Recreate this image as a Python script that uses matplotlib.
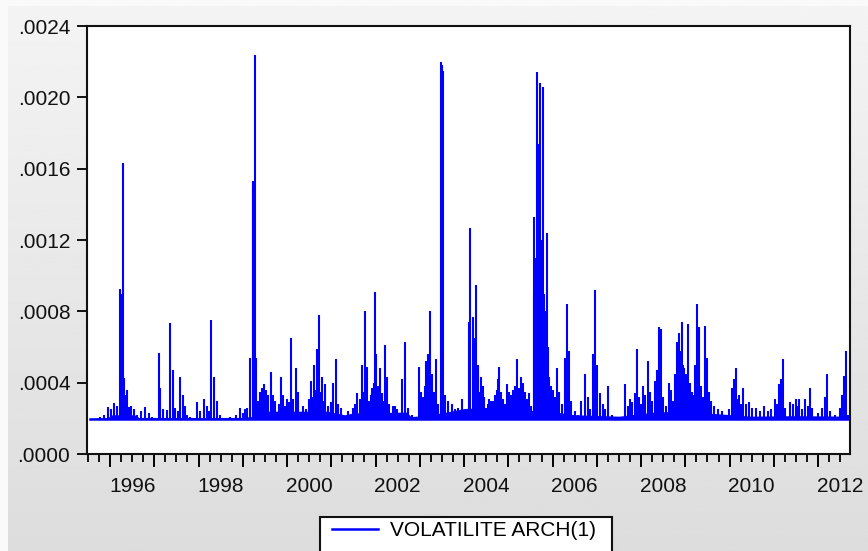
import matplotlib
matplotlib.use("Agg")
import matplotlib.pyplot as plt
import numpy as np
from matplotlib.patches import Rectangle
from matplotlib.ticker import FixedLocator, FuncFormatter, NullFormatter

plt.rcParams['font.family'] = ['Liberation Sans', 'DejaVu Sans']

# series range (decimal years) and the floor of the ARCH(1) variance
start, end = 1995.55, 2012.70
floor_level = 0.000195

# main peaks
spike_dates = [1995.955, 1996.090, 1996.226, 1996.24, 1996.27, 1996.294, 1996.316, 1996.384,
               1996.429, 1996.542, 1996.791, 1996.881, 1997.107, 1997.130, 1997.288, 1997.356,
               1997.424, 1997.582, 1997.650, 1997.740, 1997.966, 1998.124, 1998.282, 1998.350,
               1998.418, 1998.938, 1999.096, 1999.164, 1999.225, 1999.24, 1999.25, 1999.266,
               1999.299, 1999.435, 1999.480, 1999.525, 1999.638, 1999.684, 1999.864, 1999.910,
               2000.000, 2000.090, 2000.136, 2000.203, 2000.497, 2000.542, 2000.610, 2000.678,
               2000.723, 2000.791, 2000.859, 2001.040, 2001.107, 2001.492, 2001.582, 2001.650,
               2001.695, 2001.763, 2001.808, 2001.921, 2001.989, 2002.011, 2002.056, 2002.102,
               2002.215, 2002.260, 2002.395, 2002.441, 2002.599, 2002.667, 2002.983, 2003.073,
               2003.141, 2003.186, 2003.232, 2003.367, 2003.473, 2003.49, 2003.50, 2003.518,
               2003.955, 2004.113, 2004.136, 2004.203, 2004.249, 2004.271, 2004.316, 2004.384,
               2004.452, 2004.497, 2004.565, 2004.655, 2004.746, 2004.791, 2004.836, 2004.972,
               2005.017, 2005.153, 2005.198, 2005.333, 2005.469, 2005.582, 2005.59, 2005.61,
               2005.63, 2005.650, 2005.66, 2005.672, 2005.69, 2005.70, 2005.718, 2005.74,
               2005.75, 2005.77, 2005.785, 2005.80, 2005.808, 2005.83, 2005.85, 2005.876,
               2005.89, 2005.921, 2006.011, 2006.102, 2006.282, 2006.328, 2006.373, 2006.644,
               2006.734, 2006.915, 2006.960, 2007.073, 2007.254, 2007.638, 2007.797, 2007.864,
               2007.910, 2008.045, 2008.158, 2008.316, 2008.362, 2008.407, 2008.452, 2008.633,
               2008.791, 2008.814, 2008.859, 2008.927, 2008.972, 2009.062, 2009.220, 2009.266,
               2009.311, 2009.446, 2009.492, 2010.056, 2010.147, 2010.215, 2010.305, 2010.441,
               2010.599, 2010.780, 2011.028, 2011.119, 2011.209, 2011.367, 2011.503, 2011.571,
               2011.706, 2011.819, 2012.090, 2012.158, 2012.203, 2012.497, 2012.588, 2012.633]
spike_vals = [0.000263, 0.000286, 0.000925, 0.0009, 0.0009, 0.00163, 0.000426, 0.000359,
              0.000263, 0.00025, 0.000263, 0.00023, 0.000566, 0.00037, 0.000247, 0.000735,
              0.00047, 0.00043, 0.00033, 0.00022, 0.00029, 0.00031, 0.00075, 0.00043,
              0.0003, 0.00026, 0.00026, 0.00054, 0.00153, 0.0015, 0.0015, 0.00224,
              0.00054, 0.00037, 0.00039, 0.00036, 0.00046, 0.00033, 0.00043, 0.00033,
              0.00031, 0.00065, 0.00031, 0.00048, 0.00031, 0.00041, 0.0005, 0.00059,
              0.00078, 0.00043, 0.00039, 0.0004, 0.00053, 0.00026, 0.00034, 0.00031,
              0.0005, 0.0008, 0.00049, 0.00037, 0.00091, 0.00056, 0.00038, 0.00048,
              0.00061, 0.00043, 0.00027, 0.00027, 0.00042, 0.00063, 0.00049, 0.00032,
              0.00052, 0.00056, 0.0008, 0.00053, 0.0022, 0.00218, 0.0020, 0.00215,
              0.00031, 0.00074, 0.00127, 0.00077, 0.00065, 0.00095, 0.0005, 0.00043,
              0.00032, 0.00026, 0.00031, 0.0003, 0.00036, 0.00049, 0.00035, 0.00039,
              0.00035, 0.00038, 0.00053, 0.0004, 0.00034, 0.00133, 0.0009, 0.00105,
              0.0011, 0.00214, 0.00125, 0.00174, 0.0013, 0.00115, 0.00208, 0.0012,
              0.0011, 0.0009, 0.00206, 0.0009, 0.00082, 0.0008, 0.00075, 0.00124,
              0.0006, 0.00043, 0.00036, 0.00048, 0.00054, 0.00084, 0.00058, 0.0003,
              0.00045, 0.00056, 0.00092, 0.00034, 0.00038, 0.00039, 0.00029, 0.00034,
              0.00059, 0.00038, 0.00052, 0.00041, 0.00047, 0.00071, 0.0007, 0.0004,
              0.00038, 0.00063, 0.00068, 0.00074, 0.00048, 0.00073, 0.0005, 0.00084,
              0.00071, 0.00072, 0.00054, 0.00037, 0.00048, 0.00033, 0.00037, 0.00029,
              0.00026, 0.00027, 0.00031, 0.00039, 0.00053, 0.00029, 0.00031, 0.00031,
              0.00031, 0.00037, 0.00026, 0.00032, 0.00045, 0.00026, 0.00044, 0.00058]

# smaller fluctuations in the busy stretches
minor_dates = [1995.774, 1995.864, 1996.023, 1996.158, 1996.362, 1996.475, 1996.610, 1996.701,
               1996.949, 1997.198, 1997.469, 1997.537, 1997.695, 1997.808, 1998.034, 1998.192,
               1998.237, 1998.486, 1998.712, 1998.847, 1999.006, 1999.051,
               1999.345, 1999.390, 1999.571, 1999.729, 1999.819, 1999.955, 2000.045, 2000.249,
               2000.362, 2000.429, 2000.588, 2000.655, 2000.768, 2000.836, 2000.927, 2000.994,
               2001.153, 2001.220,
               2001.379, 2001.537, 2001.740, 2001.853, 2001.898, 2001.966, 2002.034, 2002.079,
               2002.147, 2002.192, 2002.305, 2002.486, 2002.554, 2002.734, 2002.825, 2003.028,
               2003.119, 2003.164, 2003.277, 2003.322, 2003.412, 2003.571, 2003.638, 2003.729,
               2003.797, 2003.864, 2004.023,
               2004.362, 2004.429, 2004.542, 2004.610, 2004.701, 2004.768, 2004.881, 2004.927,
               2005.062, 2005.107, 2005.243, 2005.288, 2005.379, 2005.424, 2005.514, 2005.966,
               2006.056, 2006.147, 2006.215, 2006.418, 2006.508, 2006.576, 2006.802, 2006.847,
               2007.006,
               2007.141, 2007.186, 2007.345, 2007.706, 2007.751, 2007.955, 2008.000, 2008.090,
               2008.203, 2008.249, 2008.497, 2008.565, 2008.678, 2008.723, 2008.768, 2008.881,
               2008.904, 2008.949, 2009.017, 2009.107, 2009.153, 2009.198, 2009.356, 2009.401,
               2009.537, 2009.582, 2009.650, 2009.740, 2009.831,
               2009.989, 2010.102, 2010.170, 2010.260, 2010.373, 2010.508, 2010.689, 2010.870,
               2010.938, 2011.073, 2011.164, 2011.254, 2011.435, 2011.548, 2011.638, 2011.774,
               2011.864, 2012.000, 2012.271, 2012.384, 2012.542, 2012.678]
minor_vals = [0.00021, 0.00022, 0.00025, 0.00027, 0.00033, 0.00027, 0.00022, 0.00024,
              0.00021, 0.00025, 0.00026, 0.00024, 0.00027, 0.00021, 0.00024, 0.00027,
              0.00024, 0.00022, 0.00021, 0.00022, 0.00023, 0.00025,
              0.0003, 0.00035, 0.00033, 0.0003, 0.00028, 0.00027, 0.00029, 0.00035,
              0.00027, 0.00025, 0.00032, 0.00036, 0.00035, 0.0003, 0.00027, 0.00029,
              0.00028, 0.00026,
              0.00024, 0.00028, 0.00035, 0.0003, 0.00033, 0.0004, 0.00036, 0.00031,
              0.00034, 0.0003, 0.00028, 0.00025, 0.00023, 0.00026, 0.00022, 0.00035,
              0.00038, 0.00033, 0.00045, 0.00035, 0.00028, 0.00033, 0.0003, 0.00028,
              0.00025, 0.00026, 0.00024,
              0.00035, 0.00038, 0.00028, 0.0003, 0.00033, 0.00042, 0.00031, 0.00028,
              0.00033, 0.00036, 0.00037, 0.00043, 0.00035, 0.00031, 0.00027, 0.00038,
              0.00032, 0.00035, 0.00028, 0.0003, 0.00024, 0.00022, 0.00032, 0.00025,
              0.0005,
              0.00028, 0.00025, 0.00022, 0.00027, 0.00031, 0.00032, 0.00028, 0.00033,
              0.00035, 0.0003, 0.00032, 0.00027, 0.00036, 0.0003, 0.00045, 0.00055,
              0.00058, 0.0005, 0.00045, 0.0004, 0.00035, 0.00033, 0.00038, 0.00032,
              0.00035, 0.0003, 0.00027, 0.00025, 0.00024,
              0.00025, 0.00042, 0.00031, 0.00028, 0.00028, 0.00026, 0.00024, 0.00024,
              0.00025, 0.00028, 0.00042, 0.00026, 0.00028, 0.00027, 0.00025, 0.00027,
              0.00026, 0.00023, 0.00024, 0.00022, 0.00033, 0.00022]

# upper edge of the solid band just above the floor
band_dates = [1995.55, 1995.95, 1996.05, 1996.55, 1996.65, 1998.95, 1999.20, 1999.35,
              2000.90, 2001.30, 2001.50, 2002.70, 2002.80, 2003.10, 2003.60, 2004.00,
              2004.50, 2005.00, 2005.50, 2005.95, 2006.50, 2007.50, 2008.30, 2008.90,
              2009.60, 2010.50, 2011.50, 2012.70]
band_tops = [0.000200, 0.000205, 0.000220, 0.000220, 0.000205, 0.000205, 0.000210, 0.000240,
             0.000240, 0.000220, 0.000230, 0.000235, 0.000210, 0.000215, 0.000235, 0.000255,
             0.000260, 0.000250, 0.000245, 0.000240, 0.000220, 0.000212, 0.000235, 0.000240,
             0.000228, 0.000212, 0.000215, 0.000212]

fig = plt.figure(figsize=(8.68, 5.51), dpi=100)
fig.patch.set_facecolor('#fafafa')

# grey gradient background like the EViews frame
bg = fig.add_axes([8 / 868, 0, 1 - 8 / 868, 1 - 6 / 551])
grad = np.linspace(0.955, 0.865, 256).reshape(-1, 1)
bg.imshow(grad, cmap='gray', vmin=0, vmax=1, aspect='auto', extent=[0, 1, 0, 1])
bg.set_axis_off()

ax = fig.add_axes([87 / 868, 97 / 551, 763 / 868, 428 / 551])
blue = '#0000ff'

ax.fill_between(band_dates, floor_level, band_tops, color=blue, lw=0)
ax.vlines(minor_dates, floor_level, minor_vals, color=blue, lw=1.5)
ax.vlines(spike_dates, floor_level, spike_vals, color=blue, lw=1.5)
line, = ax.plot([start, end], [floor_level, floor_level], color=blue, lw=1.8,
                label='VOLATILITE ARCH(1)')

ax.set_xlim(1995.48, 2012.72)
ax.set_ylim(0, 0.0024)

# y axis
ax.set_yticks(np.arange(0, 0.00241, 0.0004))
ax.yaxis.set_major_formatter(FuncFormatter(lambda v, p: f'{v:.4f}'[1:]))
ax.tick_params(axis='y', direction='out', length=7.5, width=1.4, pad=4.5,
               labelsize=15, colors='#111111')

# x axis: year ticks, quarter minor ticks, labels centred on even years
years = np.arange(1996, 2013)
quarters = [y + q for y in range(1995, 2013) for q in (0.25, 0.5, 0.75)
            if 1995.48 < y + q < 2012.72]
ax.xaxis.set_major_locator(FixedLocator(years))
ax.xaxis.set_major_formatter(NullFormatter())
ax.xaxis.set_minor_locator(FixedLocator(quarters))


def year_label(v, p):
    yr = int(round(v - 0.5))
    if abs(v - 0.5 - yr) < 1e-6 and yr % 2 == 0:
        return str(yr)
    return ''


ax.xaxis.set_minor_formatter(FuncFormatter(year_label))
ax.tick_params(axis='x', which='major', direction='out', length=9.5, width=1.4)
ax.tick_params(axis='x', which='minor', direction='out', length=5.8, width=1.4,
               pad=10.5, labelsize=15, colors='#111111')

for s in ax.spines.values():
    s.set_linewidth(1.5)
    s.set_color('#111111')

# legend box runs past the bottom edge of the picture, as in the original
fig.patches.append(Rectangle((320 / 868, -0.05), 292 / 868, 34 / 551 + 0.05,
                             transform=fig.transFigure, facecolor='white',
                             edgecolor='#111111', lw=1.5, zorder=1))
fig.legend(handles=[line], loc='upper center', bbox_to_anchor=(464 / 868, 1 - 515 / 551),
           fontsize=15, frameon=False, borderpad=0.3, borderaxespad=0,
           handlelength=2.2, handletextpad=0.6)

fig.savefig('out.png', dpi=100, facecolor=fig.get_facecolor())
